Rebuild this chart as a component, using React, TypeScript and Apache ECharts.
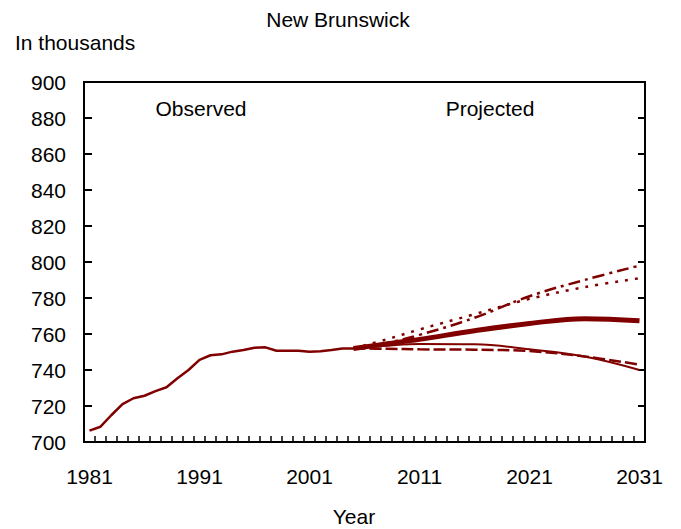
import React, { useEffect, useRef } from "react";
import * as echarts from "echarts";

const years: string[] = [];
for (let y = 1981; y <= 2031; y++) years.push(String(y));

const observed = [
  706.3, 708.5, 715, 721, 724.3, 725.7, 728.3, 730.4, 735.4, 740, 745.6, 748.2, 748.7,
  750.2, 751.1, 752.4, 752.6, 750.7, 750.7, 750.7, 750.2, 750.4, 751.1, 752, 752,
];

const projYears = ["2005", "2008", "2011", "2016", "2021", "2026", "2031"];
const projMedium = [752, 754.5, 757, 761.8, 765.8, 768.5, 767.3];
const projLowMid = [752, 753.5, 754.5, 754.3, 751.5, 747.5, 740];
const projLow = [752, 751.8, 751.5, 751.3, 750.5, 747.5, 743];
const projHighMid = [752, 757, 762.5, 771, 779.5, 786, 791];
const projHigh = [752, 755, 759.5, 769, 781, 790, 798];

const RED = "#800000";
const FONT = "Liberation Sans, Arial, Helvetica, sans-serif";
const FS = 21;

const pairs = (vals: number[]) => projYears.map((y, i) => [y, vals[i]]);

export default function App() {
  const ref = useRef<HTMLDivElement>(null);
  useEffect(() => {
    if (!ref.current) return;
    const chart = echarts.init(ref.current, null, { renderer: "svg" });
    const lineSeries = (name: string, vals: number[], width: number, type: any, z = 2) => ({
      name,
      type: "line",
      data: pairs(vals),
      smooth: 0.4,
      showSymbol: false,
      symbol: "none",
      z,
      lineStyle: { color: RED, width, type, cap: "butt" },
    });
    chart.setOption({
      animation: false,
      textStyle: { fontFamily: FONT },
      grid: {
        left: 84,
        right: 36,
        top: 82,
        bottom: 87,
        show: true,
        borderColor: "#000",
        borderWidth: 2,
        containLabel: false,
      },
      xAxis: {
        type: "category",
        data: years,
        boundaryGap: true,
        axisLine: { show: false },
        axisTick: {
          show: true,
          inside: true,
          length: 6,
          interval: 0,
          lineStyle: { color: "#000", width: 1.5 },
        },
        axisLabel: {
          interval: (index: number) => index % 10 === 0,
          color: "#000",
          fontSize: FS,
          fontFamily: FONT,
          margin: 24,
        },
        splitLine: { show: false },
      },
      yAxis: [
        {
          type: "value",
          min: 700,
          max: 900,
          interval: 20,
          position: "left",
          axisLine: { show: false },
          axisTick: { show: true, inside: true, length: 8, lineStyle: { color: "#000", width: 2 } },
          axisLabel: { color: "#000", fontSize: FS, fontFamily: FONT, margin: 18 },
          splitLine: { show: false },
        },
        {
          type: "value",
          min: 700,
          max: 900,
          interval: 20,
          position: "right",
          axisLine: { show: false },
          axisTick: { show: true, inside: true, length: 7, lineStyle: { color: "#000", width: 2 } },
          axisLabel: { show: false },
          splitLine: { show: false },
        },
      ],
      graphic: [
        { type: "text", x: 338, y: 9, style: { text: "New Brunswick", fill: "#000", font: `${FS}px ${FONT}`, textAlign: "center" } },
        { type: "text", x: 15, y: 32, style: { text: "In thousands", fill: "#000", font: `${FS}px ${FONT}` } },
        { type: "text", x: 201, y: 98, style: { text: "Observed", fill: "#000", font: `${FS}px ${FONT}`, textAlign: "center" } },
        { type: "text", x: 490, y: 98, style: { text: "Projected", fill: "#000", font: `${FS}px ${FONT}`, textAlign: "center" } },
        { type: "text", x: 354, y: 506, style: { text: "Year", fill: "#000", font: `${FS}px ${FONT}`, textAlign: "center" } },
      ],
      series: [
        {
          name: "Observed",
          type: "line",
          data: observed,
          showSymbol: false,
          symbol: "none",
          lineStyle: { color: RED, width: 2.5 },
        },
        lineSeries("High", projHigh, 2.5, [12, 5, 3, 5]),
        lineSeries("HighMid", projHighMid, 2.5, [3, 7]),
        lineSeries("Low", projLow, 2.5, [12, 4]),
        lineSeries("LowMid", projLowMid, 2, "solid"),
        lineSeries("Medium", projMedium, 5, "solid", 3),
      ],
    });
    return () => chart.dispose();
  }, []);
  return (
    <div
      ref={ref}
      style={{ position: "absolute", left: 0, top: 0, width: 681, height: 529 }}
    />
  );
}
